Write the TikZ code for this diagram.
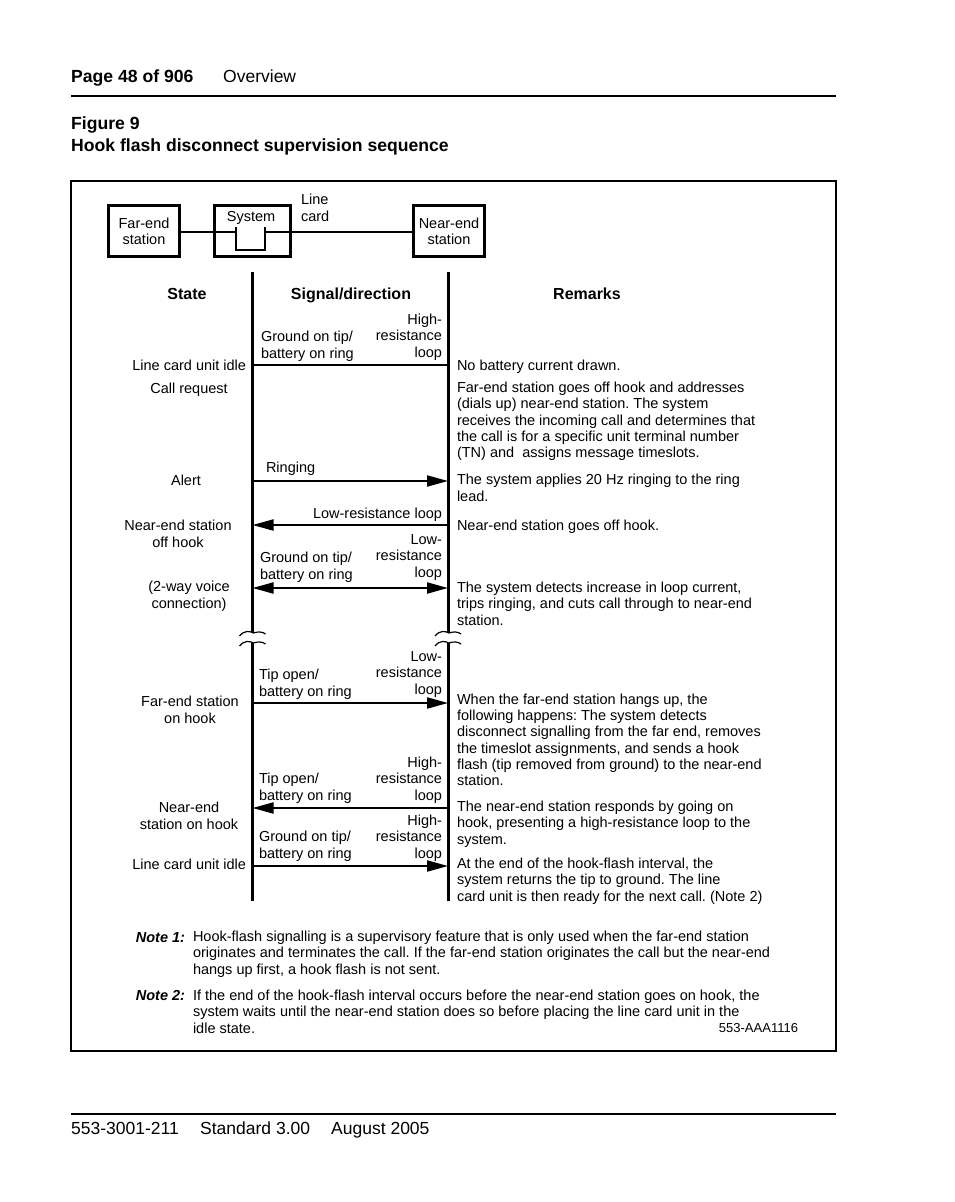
\documentclass[tikz,border=0pt]{standalone}
\usepackage{fontspec}
\setmainfont{Liberation Sans}
\usetikzlibrary{arrows.meta}
\frenchspacing
\begin{document}
\begin{tikzpicture}[x=1pt,y=-1pt,
  body/.style={font=\fontsize{14.5}{16.2}\selectfont, inner sep=0pt, outer sep=0pt},
  tl/.style={body, align=left, anchor=base west},
  tr/.style={body, align=right, anchor=base east},
  tc/.style={body, align=center, anchor=base},
  hd/.style={font=\fontsize{16}{19}\selectfont\bfseries, inner sep=0pt, anchor=base},
  big/.style={font=\fontsize{17.5}{22}\selectfont, inner sep=0pt, anchor=base west},
  bigb/.style={font=\fontsize{17.6}{22}\selectfont\bfseries, inner sep=0pt, anchor=base west},
  station/.style={draw, line width=3pt, minimum height=51pt, inner sep=0pt, align=center, font=\fontsize{14.5}{16.2}\selectfont},
  life/.style={line width=3pt},
  sig/.style={line width=2pt, -{Triangle[length=21pt,width=11pt]}},
  sigb/.style={line width=2pt, {Triangle[length=21pt,width=11pt]}-{Triangle[length=21pt,width=11pt]}},
  brk/.style={line width=1.2pt},
  wire/.style={line width=1.3pt}
]
\useasboundingbox (0,0) rectangle (954,1202);
\fill[white] (0,0) rectangle (954,1202);

% header
\node[bigb] (page) at (71,82) {Page 48 of 906};
\node[big] (ovw) at (223,82) {Overview};
\draw[line width=2.5pt] (71,96) -- (836,96);
\node[bigb] (fig) at (71,129) {Figure 9};
\node[bigb] (title) at (71,151) {Hook flash disconnect supervision sequence};

% frame
\draw[line width=1.8pt] (71,181) rectangle (836,1051);

% stations
\node[station, minimum width=71pt] (far) at (144,231) {Far-end\\station};
\node[station, minimum width=76pt] (sys) at (252.5,231) {};
\node[station, minimum width=71pt] (near) at (449,231) {Near-end\\station};
\node[body, anchor=base] (systxt) at (251,221) {System};
\node[tl] (lcard) at (301,221) {Line\\card};
\coordinate (swA) at (236,232);
\coordinate (swB) at (265,232);
\draw[wire] (far.east |- swA) -- (swA);
\draw[wire] (swB) -- (near.west |- swB);
\draw[wire] (236,227) -- (236,250) -- (265,250) -- (265,227);

% lifelines
\coordinate (Ltop) at (252.5,272);
\coordinate (Lbr1) at (252.5,633);
\coordinate (Lbr2) at (252.5,643);
\coordinate (Lbot) at (252.5,901);
\coordinate (Rtop) at (448,272);
\coordinate (Rbr1) at (448,633);
\coordinate (Rbr2) at (448,643);
\coordinate (Rbot) at (448,901);
\draw[life] (Ltop) -- (Lbr1);
\draw[life] (Lbr2) -- (Lbot);
\draw[life] (Rtop) -- (Rbr1);
\draw[life] (Rbr2) -- (Rbot);
\foreach \c in {Lbr1,Lbr2,Rbr1,Rbr2}{
  \draw[brk] ([shift={(-13pt,-3pt)}]\c) .. controls ([shift={(-8pt,3pt)}]\c) and ([shift={(-3pt,2pt)}]\c) .. ([shift={(1pt,0pt)}]\c)
     .. controls ([shift={(5pt,1.5pt)}]\c) and ([shift={(10pt,1.5pt)}]\c) .. ([shift={(13pt,-1pt)}]\c);
}

% column headers
\node[hd] (hstate) at (187,299) {State};
\node[hd] (hsig) at (351,299) {Signal/direction};
\node[hd] (hrem) at (587,299) {Remarks};

% row 1
\node[tl] (s1a) at (261,358) {Ground on tip/\\battery on ring};
\node[tr] (s1b) at (442,357) {High-\\resistance\\loop};
\draw[wire] (252.5,365) coordinate (a1l) -- (448,365) coordinate (a1r);
\node[tr] (st1) at (246,370) {Line card unit idle};
\node[tl] (r1) at (457,370) {No battery current drawn.};

% row 2
\node[tc] (st2) at (189,393) {Call request};
\node[tl] (r2) at (457,457.5) {Far-end station goes off hook and addresses\\(dials up) near-end station. The system\\receives the incoming call and determines that\\the call is for a specific unit terminal number\\(TN) and\ \ assigns message timeslots.};

% row 3
\node[tl] (s3) at (266,472) {Ringing};
\coordinate (a3l) at (252.5,481); \coordinate (a3r) at (448,481);
\draw[sig] (a3l) -- (a3r);
\node[tc] (st3) at (186,485) {Alert};
\node[tl] (r3) at (457,501) {The system applies 20 Hz ringing to the ring\\lead.};

% row 4
\node[tr] (s4) at (442,518) {Low-resistance loop};
\coordinate (a4l) at (252.5,525); \coordinate (a4r) at (448,525);
\draw[sig] (a4r) -- (a4l);
\node[tc] (st4) at (178,547) {Near-end station\\off hook};
\node[tl] (r4) at (457,530) {Near-end station goes off hook.};

% row 5
\node[tl] (s5a) at (260,579) {Ground on tip/\\battery on ring};
\node[tr] (s5b) at (442,577) {Low-\\resistance\\loop};
\coordinate (a5l) at (252.5,588); \coordinate (a5r) at (448,588);
\draw[sigb] (a5l) -- (a5r);
\node[tc] (st5) at (189,608) {(2-way voice\\connection)};
\node[tl] (r5) at (457,625) {The system detects increase in loop current,\\trips ringing, and cuts call through to near-end\\station.};

% row 7
\node[tl] (s7a) at (259,696) {Tip open/\\battery on ring};
\node[tr] (s7b) at (442,694) {Low-\\resistance\\loop};
\coordinate (a7l) at (252.5,703); \coordinate (a7r) at (448,703);
\draw[sig] (a7l) -- (a7r);
\node[tc] (st7) at (190,723) {Far-end station\\on hook};
\node[tl] (r7) at (457,785.5) {When the far-end station hangs up, the\\following happens: The system detects\\disconnect signalling from the far end, removes\\the timeslot assignments, and sends a hook\\flash (tip removed from ground) to the near-end\\station.};

% row 8
\node[tl] (s8a) at (259,800) {Tip open/\\battery on ring};
\node[tr] (s8b) at (442,800) {High-\\resistance\\loop};
\coordinate (a8l) at (252.5,808); \coordinate (a8r) at (448,808);
\draw[sig] (a8r) -- (a8l);
\node[tc] (st8) at (189,829) {Near-end\\station on hook};
\node[tl] (r8) at (457,844) {The near-end station responds by going on\\hook, presenting a high-resistance loop to the\\system.};

% row 9
\node[tl] (s9a) at (259,858) {Ground on tip/\\battery on ring};
\node[tr] (s9b) at (442,858) {High-\\resistance\\loop};
\coordinate (a9l) at (252.5,866); \coordinate (a9r) at (448,866);
\draw[sig] (a9l) -- (a9r);
\node[tr] (st9) at (246,869) {Line card unit idle};
\node[tl] (r9) at (457,901) {At the end of the hook-flash interval, the\\system returns the tip to ground. The line\\card unit is then ready for the next call. (Note 2)};

% notes
\node[tr, font=\fontsize{14.5}{16.2}\selectfont\bfseries\itshape] (n1l) at (185,942) {Note 1:};
\node[tl] (n1) at (193,974) {Hook-flash signalling is a supervisory feature that is only used when the far-end station\\originates and terminates the call. If the far-end station originates the call but the near-end\\hangs up first, a hook flash is not sent.};
\node[tr, font=\fontsize{14.5}{16.2}\selectfont\bfseries\itshape] (n2l) at (185,1000) {Note 2:};
\node[tl] (n2) at (193,1033) {If the end of the hook-flash interval occurs before the near-end station goes on hook, the\\system waits until the near-end station does so before placing the line card unit in the\\idle state.};
\node[tr, font=\fontsize{13}{15}\selectfont] (code) at (798,1032) {553-AAA1116};

% footer
\draw[line width=1.5pt] (71,1114) -- (836,1114);
\node[big] (f1) at (71,1134) {553-3001-211};
\node[big] (f2) at (200,1134) {Standard 3.00};
\node[big] (f3) at (331,1134) {August 2005};
\end{tikzpicture}
\end{document}
